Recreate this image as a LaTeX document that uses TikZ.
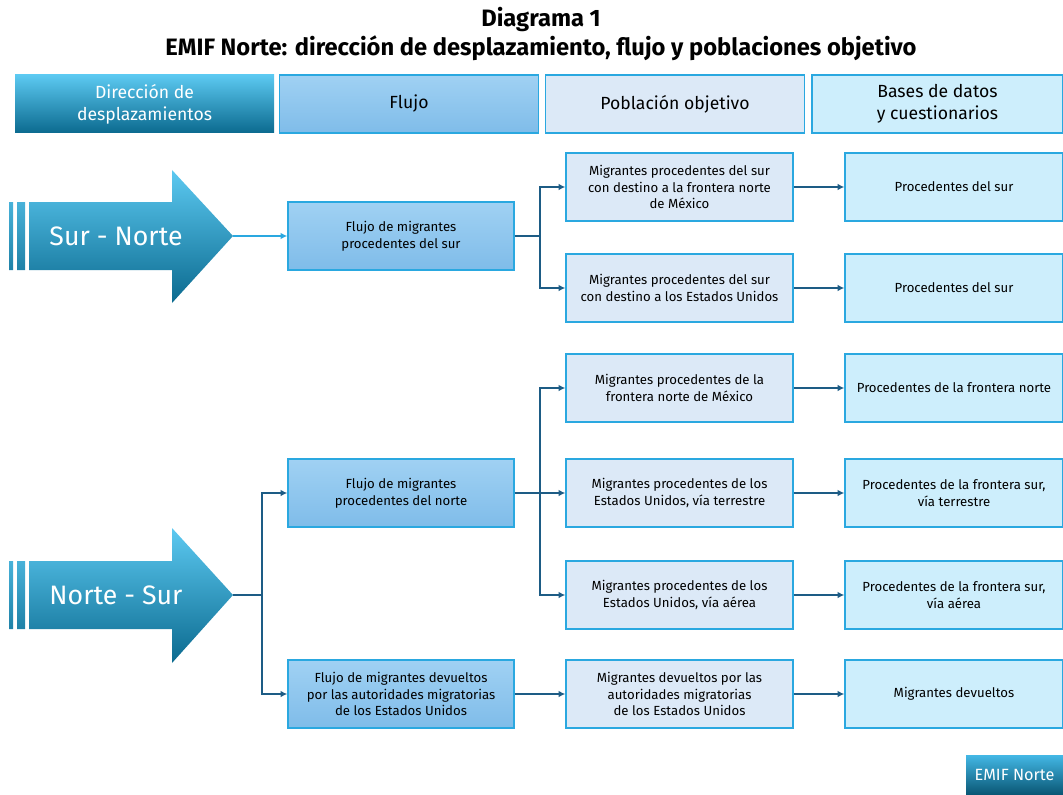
\documentclass[tikz,border=0pt]{standalone}
\usepackage{fontspec}
\setmainfont{Fira Sans}
\usetikzlibrary{arrows.meta}

\definecolor{cian}{HTML}{2AA8E0}
\definecolor{linea}{HTML}{1D5C85}
\definecolor{flujoA}{HTML}{A0D1F3}
\definecolor{flujoB}{HTML}{7FBCE9}
\definecolor{pobla}{HTML}{DCE9F7}
\definecolor{bases}{HTML}{CDEEFC}
\definecolor{azulA}{HTML}{5CC9F1}
\definecolor{azulB}{HTML}{14A6DF}
\definecolor{azulC}{HTML}{0B6A8F}

\tikzset{
  caja/.style={draw=cian, line width=1.1pt, inner sep=0pt, align=center,
    font=\fontsize{9.9}{12.4}\selectfont},
  cajaflujo/.style={caja, top color=flujoA, bottom color=flujoB,
    minimum width=169.5pt, minimum height=51pt},
  cajapob/.style={caja, fill=pobla, minimum width=170.25pt, minimum height=51pt},
  cajabase/.style={caja, fill=bases, minimum width=163.5pt, minimum height=51pt},
  encab/.style={draw=cian, line width=1.1pt, inner sep=0pt, align=center,
    minimum width=194.25pt, minimum height=43.5pt,
    font=\fontsize{13.2}{16.5}\selectfont},
  flecha/.style={draw=linea, line width=1.1pt, -{Latex[length=5pt,width=5pt]}},
}

\begin{document}
\begin{tikzpicture}[x=0.75pt, y=-0.75pt]
    \useasboundingbox (0,0) rectangle (1063,795);

    % Titulo
    \node[align=center, font=\fontsize{17.8}{21.75}\selectfont\bfseries] (titulo) at (541,34)
        {Diagrama 1\\EMIF Norte: dirección de desplazamiento, flujo y poblaciones objetivo};

    % Encabezados
    \node[encab, draw=none, top color=azulA, middle color=azulB, bottom color=azulC,
        text=white] (encDir) at (144.5,104) {Dirección de\\desplazamientos};
    \node[encab, top color=flujoA, bottom color=flujoB] (encFlujo) at (409,104) {Flujo};
    \node[encab, fill=pobla] (encPob) at (675,104) {Población objetivo};
    \node[encab, fill=bases, minimum width=188.25pt] (encBases) at (937.5,104)
        {Bases de datos\\y cuestionarios};

    % Flecha Sur - Norte
    \shade[top color=azulA, middle color=azulB, bottom color=azulC]
        (9,202) rectangle (13,270) (17,202) rectangle (25,270)
        (29,202) -- (172,202) -- (172,170) -- (233,236) -- (172,303) -- (172,270) -- (29,270) -- cycle;
    \node[text=white, font=\fontsize{20}{22}\selectfont] (surNorte) at (116,236) {Sur - Norte};
    \coordinate (puntaSN) at (233,236);

    % Flecha Norte - Sur
    \shade[top color=azulA, middle color=azulB, bottom color=azulC]
        (9,561) rectangle (13,629) (17,561) rectangle (25,629)
        (29,561) -- (172,561) -- (172,528) -- (233,595) -- (172,663) -- (172,629) -- (29,629) -- cycle;
    \node[text=white, font=\fontsize{20}{22}\selectfont] (norteSur) at (116,595) {Norte - Sur};
    \coordinate (puntaNS) at (233,595);

    % Flujos
    \node[cajaflujo] (flujoSur) at (401,236) {Flujo de migrantes\\procedentes del sur};
    \node[cajaflujo] (flujoNorte) at (401,493) {Flujo de migrantes\\procedentes del norte};
    \node[cajaflujo] (flujoDev) at (401,694)
        {Flujo de migrantes devueltos\\por las autoridades migratorias\\de los Estados Unidos};

    % Poblaciones objetivo
    \node[cajapob] (pobA) at (679.5,187)
        {Migrantes procedentes del sur\\con destino a la frontera norte\\de México};
    \node[cajapob] (pobB) at (679.5,288)
        {Migrantes procedentes del sur\\con destino a los Estados Unidos};
    \node[cajapob] (pobC) at (679.5,388)
        {Migrantes procedentes de la\\frontera norte de México};
    \node[cajapob] (pobD) at (679.5,493)
        {Migrantes procedentes de los\\Estados Unidos, vía terrestre};
    \node[cajapob] (pobE) at (679.5,595)
        {Migrantes procedentes de los\\Estados Unidos, vía aérea};
    \node[cajapob] (pobF) at (679.5,694)
        {Migrantes devueltos por las\\autoridades migratorias\\de los Estados Unidos};

    % Bases de datos
    \node[cajabase] (basA) at (954,187) {Procedentes del sur};
    \node[cajabase] (basB) at (954,288) {Procedentes del sur};
    \node[cajabase] (basC) at (954,388) {Procedentes de la frontera norte};
    \node[cajabase] (basD) at (954,493) {Procedentes de la frontera sur,\\vía terrestre};
    \node[cajabase] (basE) at (954,595) {Procedentes de la frontera sur,\\vía aérea};
    \node[cajabase] (basF) at (954,694) {Migrantes devueltos};

    % Conectores
    \draw[flecha, draw=cian] (puntaSN) -- (flujoSur.west);
    \coordinate (ramaSur) at (540,236);
    \draw[flecha] (flujoSur.east) -- (ramaSur) |- (pobA.west);
    \draw[flecha] (ramaSur) |- (pobB.west);

    \coordinate (ramaNS) at (262,595);
    \draw[flecha] (puntaNS) -- (ramaNS) |- (flujoNorte.west);
    \draw[flecha] (ramaNS) |- (flujoDev.west);

    \coordinate (ramaNorte) at (540,493);
    \draw[flecha] (flujoNorte.east) -- (pobD.west);
    \draw[flecha] (ramaNorte) |- (pobC.west);
    \draw[flecha] (ramaNorte) |- (pobE.west);
    \draw[flecha] (flujoDev.east) -- (pobF.west);

    \foreach \f in {A,B,C,D,E,F}
        \draw[flecha] (pob\f.east) -- (bas\f.west);

    % EMIF Norte
    \node[top color=azulB!80!white, bottom color=azulC!80!black, text=white,
        minimum width=72.75pt, minimum height=30pt, inner sep=0pt,
        font=\fontsize{12.2}{14}\selectfont] (emif) at (1014.5,775) {EMIF Norte};
\end{tikzpicture}
\end{document}
